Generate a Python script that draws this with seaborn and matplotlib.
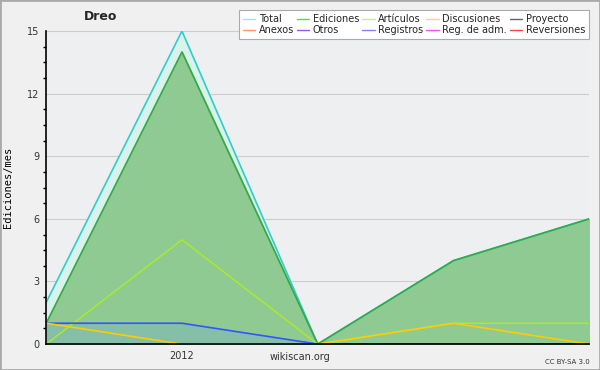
import matplotlib
matplotlib.use("Agg")
import matplotlib.pyplot as plt
from matplotlib.lines import Line2D
from matplotlib.ticker import MultipleLocator, FixedLocator
import seaborn as sns
import pandas as pd

# months (5 points), only the second one is labelled
x_pos = [0, 1, 2, 3, 4]
x_labels = ["", "2012", "", "", ""]

total = [2, 15, 0, 4, 6]
ediciones = [1, 14, 0, 4, 6]
articulos = [0, 5, 0, 1, 1]
discusiones = [1, 0, 0, 1, 0]
registros = [1, 1, 0, 0, 0]

legend_names = ["Total", "Ediciones", "Artículos", "Discusiones", "Proyecto",
                "Anexos", "Otros", "Registros", "Reg. de adm.", "Reversiones"]
legend_colors = ["#99e6e6", "#66cc66", "#ccf266", "#ffd966", "#666666",
                 "#ff9955", "#9955ee", "#7788ff", "#ee55ee", "#ff4444"]

sns.set_theme(style="white")
plt.rcParams["font.family"] = ["DejaVu Sans"]

fig = plt.figure(figsize=(6, 3.7), dpi=100, facecolor="#f0f0f0")
ax = fig.add_axes([0.077, 0.07, 0.905, 0.846])
ax.set_facecolor("#eeeff1")

df = pd.DataFrame({"x": x_pos, "total": total, "ediciones": ediciones,
                   "articulos": articulos, "discusiones": discusiones,
                   "registros": registros})

ax.fill_between(df["x"], df["total"], color="#d8f2ec", zorder=1)
ax.fill_between(df["x"], df["ediciones"], color="#8fca93", zorder=2)
ax.fill_between(df["x"], df["registros"], color="#85bfa8", zorder=3)

sns.lineplot(data=df, x="x", y="total", color="#33cccc", lw=1.2, ax=ax, zorder=4)
sns.lineplot(data=df, x="x", y="ediciones", color="#33aa44", lw=1.2, ax=ax, zorder=5)
sns.lineplot(data=df, x="x", y="articulos", color="#aaee22", lw=1, ax=ax, zorder=6)
sns.lineplot(data=df, x="x", y="registros", color="#3355ff", lw=1.2, ax=ax, zorder=7)
sns.lineplot(data=df, x="x", y="discusiones", color="#ffcc00", lw=1.2, ax=ax, zorder=8)

ax.set_xlim(0, 4)
ax.set_ylim(0, 15)
ax.yaxis.set_major_locator(MultipleLocator(3))
ax.yaxis.set_minor_locator(MultipleLocator(0.75))
ax.xaxis.set_major_locator(FixedLocator(x_pos))
ax.set_xticklabels(x_labels)
ax.grid(axis="y", color="#cccccc", lw=0.8, zorder=0)
ax.set_axisbelow(True)
for s in ["top", "right"]:
    ax.spines[s].set_visible(False)
for s in ["left", "bottom"]:
    ax.spines[s].set_color("black")
    ax.spines[s].set_linewidth(1.2)
    ax.spines[s].set_zorder(10)
ax.tick_params(axis="both", which="major", direction="out", length=4, width=1,
               color="black", labelsize=7, colors="#333333", pad=1)
ax.tick_params(axis="y", which="minor", direction="out", length=2, width=1,
               color="black", left=True)
ax.tick_params(axis="x", which="major", color="black")

ax.set_xlabel("")
ax.set_ylabel("Ediciones/mes", fontsize=7.5, color="black", labelpad=10,
              family="DejaVu Sans Mono")
fig.text(0.5, 0.028, "wikiscan.org", fontsize=7, color="#333333", ha="center")
fig.text(0.14, 0.945, "Dreo", fontsize=9, fontweight="bold", ha="left")
fig.text(0.983, 0.015, "CC BY-SA 3.0", fontsize=5, ha="right", color="#333333")

# matplotlib fills legend columns first, so reorder to read row by row
order = [0, 5, 1, 6, 2, 7, 3, 8, 4, 9]
handles = [Line2D([0], [0], color=legend_colors[i], lw=1) for i in order]
labels = [legend_names[i] for i in order]
leg = fig.legend(handles, labels, ncol=5, loc="upper right",
                 bbox_to_anchor=(0.99, 0.985), fontsize=7, frameon=True,
                 fancybox=False, handlelength=1.3, handletextpad=0.35,
                 columnspacing=0.3, labelspacing=0.1, borderpad=0.4,
                 framealpha=1)
leg.get_frame().set_edgecolor("#aaaaaa")
leg.get_frame().set_linewidth(0.8)

fig.patches.append(plt.Rectangle((0, 0), 1, 1, transform=fig.transFigure,
                                 fill=False, edgecolor="#aaaaaa", lw=2))
fig.savefig("out.png", dpi=100, facecolor=fig.get_facecolor())
